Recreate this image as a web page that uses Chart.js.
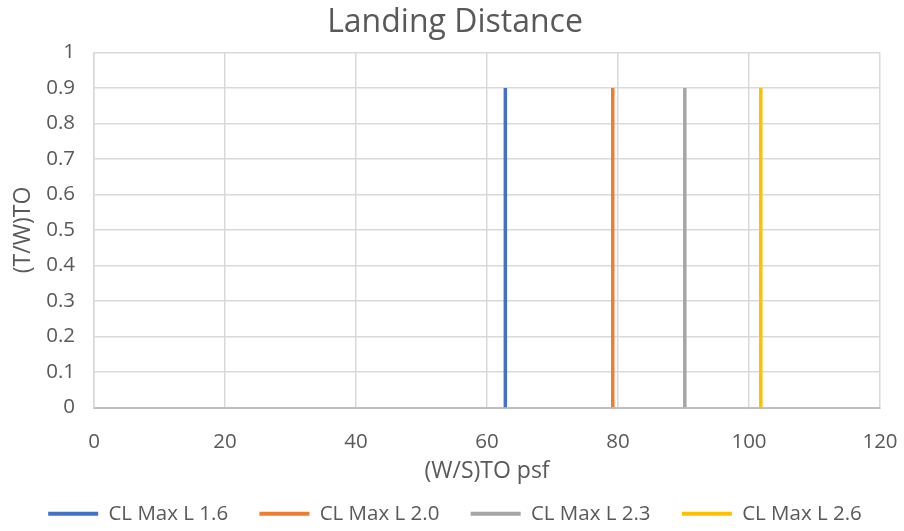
<!DOCTYPE html>
<html>
<head>
<meta charset="utf-8">
<script src="https://cdn.jsdelivr.net/npm/chart.js@4.4.0/dist/chart.umd.min.js"></script>
<style>
  html, body { margin: 0; padding: 0; background: #ffffff; }
  #wrap { width: 904px; height: 531px; position: relative; }
</style>
</head>
<body>
<div id="wrap"><canvas id="chart" width="904" height="531"></canvas></div>
<script>
// Landing-distance constraint: wing loading limit for each CL max (landing)
const seriesNames = ['CL Max L 1.6', 'CL Max L 2.0', 'CL Max L 2.3', 'CL Max L 2.6'];
const wingLoading = [62.8, 79.2, 90.2, 101.8];       // (W/S)TO psf
const thrustToWeight = [0, 0.9];                      // (T/W)TO span of each line
const seriesColors = ['#4472C4', '#ED7D31', '#A5A5A5', '#FFC000'];
const xTickLabels = ['0', '20', '40', '60', '80', '100', '120'];
const yTickLabels = ['0', '0.1', '0.2', '0.3', '0.4', '0.5', '0.6', '0.7', '0.8', '0.9', '1'];

const FONT = "'Open Sans', 'Noto Sans', sans-serif";
const TEXT = '#595959';
const LEGEND_GAP = '    '; // extra room between legend entries

const datasets = seriesNames.map((name, i) => ({
  label: name,
  data: thrustToWeight.map(y => ({ x: wingLoading[i], y })),
  borderColor: seriesColors[i],
  backgroundColor: seriesColors[i],
  borderWidth: 3.5,
  pointRadius: 0,
  showLine: true,
  fill: false
}));

new Chart(document.getElementById('chart'), {
  type: 'scatter',
  data: { datasets },
  options: {
    responsive: false,
    animation: false,
    layout: { padding: { left: 6, right: 0, top: 0, bottom: -3 } },
    plugins: {
      title: {
        display: true,
        text: 'Landing Distance',
        color: TEXT,
        font: { family: FONT, size: 32, weight: 'normal' },
        padding: { top: 4, bottom: 10 }
      },
      legend: {
        display: true,
        position: 'bottom',
        labels: {
          color: TEXT,
          font: { family: FONT, size: 20.5 },
          boxWidth: 50,
          boxHeight: 4,
          padding: 10,
          generateLabels: chart => {
            const items = Chart.defaults.plugins.legend.labels.generateLabels(chart);
            items.forEach((it, i) => {
              it.lineWidth = 0;
              it.fillStyle = seriesColors[i];
              if (i < items.length - 1) it.text = it.text + LEGEND_GAP;
            });
            return items;
          }
        }
      },
      tooltip: { enabled: false }
    },
    scales: {
      x: {
        type: 'linear',
        min: 0, max: 120,
        afterBuildTicks: s => { s.ticks = xTickLabels.map(v => ({ value: Number(v) })); },
        afterFit: s => { s.height = 86; s.paddingRight = 24; },
        ticks: {
          color: TEXT,
          font: { family: FONT, size: 20.5 },
          padding: 22,
          maxRotation: 0,
          callback: (v, i) => xTickLabels[i]
        },
        grid: { color: '#D9D9D9', lineWidth: 1.5, drawTicks: false },
        border: { color: '#BFBFBF', width: 2 },
        title: {
          display: true,
          text: '(W/S)TO psf',
          color: TEXT,
          font: { family: FONT, size: 23 },
          padding: { top: 0, bottom: 8.7 }
        }
      },
      y: {
        type: 'linear',
        min: 0, max: 1,
        afterBuildTicks: s => { s.ticks = yTickLabels.map(v => ({ value: Number(v) })); },
        afterFit: s => { s.width = 88; },
        ticks: {
          color: TEXT,
          font: { family: FONT, size: 20.5 },
          padding: 19,
          callback: (v, i) => yTickLabels[i]
        },
        grid: { color: '#D9D9D9', lineWidth: 1.5, drawTicks: false },
        border: { color: '#D9D9D9', width: 1.5 },
        title: {
          display: true,
          text: '(T/W)TO',
          color: TEXT,
          font: { family: FONT, size: 23 },
          padding: { top: 4, bottom: 0 }
        }
      }
    }
  }
});
</script>
</body>
</html>
